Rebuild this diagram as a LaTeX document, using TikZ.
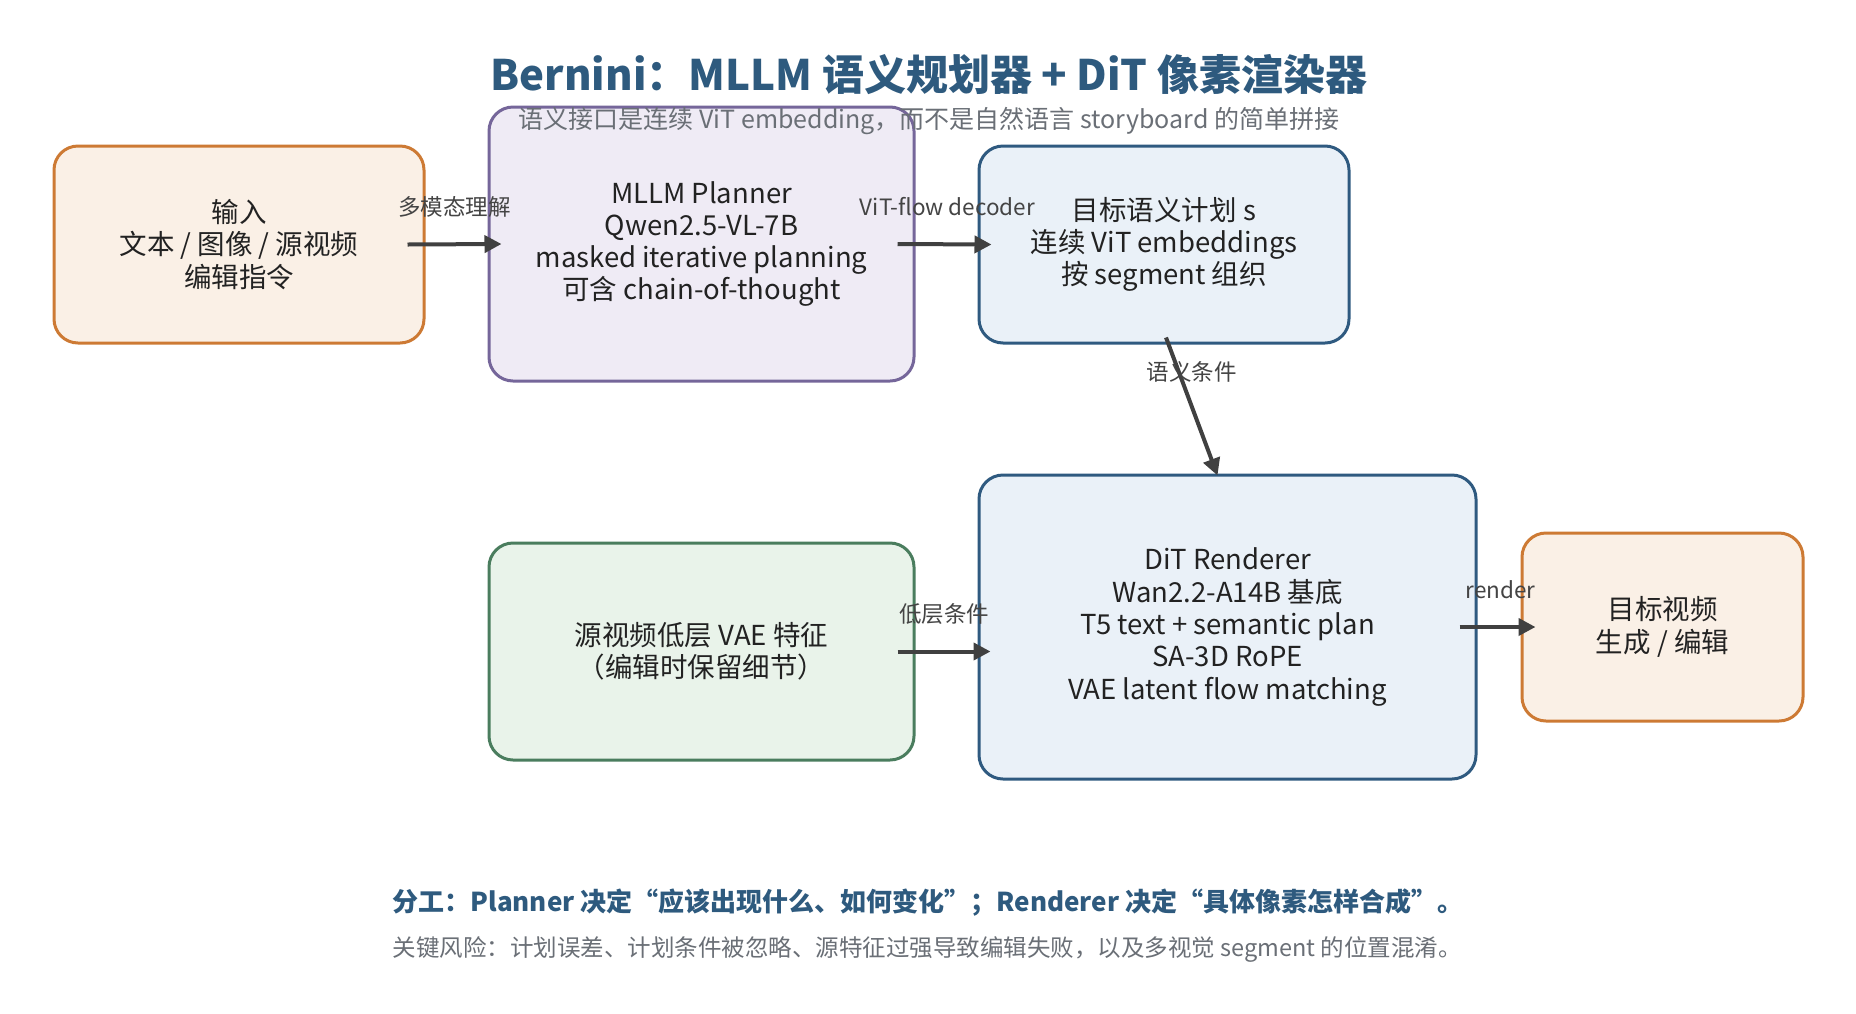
\documentclass[tikz,border=0pt]{standalone}
\usepackage{fontspec}
\setmainfont{Noto Sans CJK SC}
\usetikzlibrary{arrows.meta}
\definecolor{orangeB}{HTML}{CD7A34}
\definecolor{orangeF}{HTML}{FAF0E6}
\definecolor{purpleB}{HTML}{75669A}
\definecolor{purpleF}{HTML}{EFEBF5}
\definecolor{blueB}{HTML}{2F5A80}
\definecolor{blueF}{HTML}{EAF1F8}
\definecolor{greenB}{HTML}{4A7D5E}
\definecolor{greenF}{HTML}{E9F3EA}
\definecolor{arrowC}{HTML}{404040}
\definecolor{titleC}{HTML}{2E5A7E}
\definecolor{subC}{HTML}{6A6F76}
\definecolor{txtC}{HTML}{222222}
\definecolor{lblC}{HTML}{444444}
\tikzset{
  box/.style={draw, line width=3pt, rounded corners=24pt, inner sep=0pt, align=center,
    text=txtC, font=\fontsize{27.5}{32.3}\selectfont},
  obox/.style={box, draw=orangeB, fill=orangeF},
  pbox/.style={box, draw=purpleB, fill=purpleF},
  bbox/.style={box, draw=blueB, fill=blueF},
  gbox/.style={box, draw=greenB, fill=greenF},
  conn/.style={draw=arrowC, line width=4pt, -{Triangle[length=17pt,width=17pt]}},
  lbl/.style={text=lblC, font=\fontsize{22.5}{26}\selectfont, inner sep=0pt},
}
\begin{document}
\begin{tikzpicture}[x=1pt,y=-1pt]
\useasboundingbox (0,0) rectangle (1856,1013);
\fill[white] (0,0) rectangle (1856,1013);
\node[text=titleC, font=\fontsize{42}{48}\selectfont\bfseries] (title) at (929,75) {Bernini：MLLM 语义规划器 + DiT 像素渲染器};
\node[obox, minimum width=370pt, minimum height=197pt] (in) at (239,244.5) {输入\\文本 / 图像 / 源视频\\编辑指令};
\node[pbox, minimum width=425pt, minimum height=274pt] (plan) at (701.5,244) {MLLM Planner\\Qwen2.5-VL-7B\\masked iterative planning\\可含 chain-of-thought};
\node[text=subC, font=\fontsize{25}{30}\selectfont] (sub) at (929,121) {语义接口是连续 ViT embedding，而不是自然语言 storyboard 的简单拼接};
\node[bbox, minimum width=370pt, minimum height=197pt] (sem) at (1164,244.5) {目标语义计划 s\\连续 ViT embeddings\\按 segment 组织};
\node[bbox, minimum width=497pt, minimum height=304pt] (dit) at (1227.5,627) {DiT Renderer\\Wan2.2-A14B 基底\\T5 text + semantic plan\\SA-3D RoPE\\VAE latent flow matching};
\node[gbox, minimum width=425pt, minimum height=217pt] (src) at (701.5,651.5) {源视频低层 VAE 特征\\（编辑时保留细节）};
\node[obox, minimum width=281pt, minimum height=188pt] (out) at (1662.5,627) {目标视频\\生成 / 编辑};
\draw[conn] ([xshift=-18pt]in.east) -- ([xshift=14pt]plan.west) node[lbl, midway, yshift=37pt] {多模态理解};
\draw[conn] ([xshift=-18pt]plan.east) -- ([xshift=14pt]sem.west) node[lbl, midway, yshift=38pt, xshift=3pt] {ViT-flow decoder};
\draw[conn] ([xshift=2pt,yshift=7pt]sem.south) -- ([xshift=-10pt,yshift=-2pt]dit.north) node[lbl, midway, yshift=35pt] {语义条件};
\draw[conn] ([xshift=-18pt]src.east) -- ([xshift=13pt]src.east -| dit.west) node[lbl, midway, yshift=37pt] {低层条件};
\draw[conn] ([xshift=-18pt]dit.east) -- ([xshift=15pt]out.west) node[lbl, midway, yshift=37pt, xshift=3pt] {render};
\node[anchor=west, text=titleC, font=\fontsize{26}{30}\selectfont\bfseries] (note1) at (389,903) {分工：Planner 决定“应该出现什么、如何变化”；Renderer 决定“具体像素怎样合成”。};
\node[anchor=west, text=subC, font=\fontsize{23.5}{28}\selectfont] (note2) at (389,949) {关键风险：计划误差、计划条件被忽略、源特征过强导致编辑失败，以及多视觉 segment 的位置混淆。};
\end{tikzpicture}
\end{document}
